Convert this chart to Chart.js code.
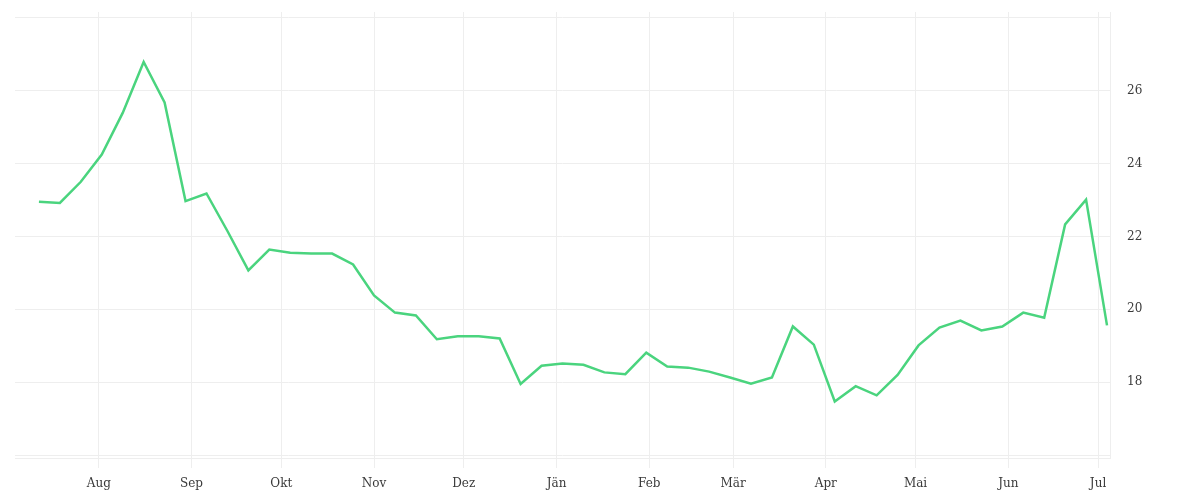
<!DOCTYPE html>
<html>
<head>
<meta charset="utf-8">
<script src="https://cdn.jsdelivr.net/npm/chart.js@4"></script>
<style>
    html, body { margin: 0; padding: 0; background: #fff; }
    #wrap { width: 1200px; height: 500px; }
</style>
</head>
<body>
<div id="wrap"><canvas id="lineChart"></canvas></div>
<script>
// Weekly dates of the series
const weekDates = [
    '2022-07-12', '2022-07-19', '2022-07-26', '2022-08-02', '2022-08-09', '2022-08-16',
    '2022-08-23', '2022-08-30', '2022-09-06', '2022-09-13', '2022-09-20', '2022-09-27',
    '2022-10-04', '2022-10-11', '2022-10-18', '2022-10-25', '2022-11-01', '2022-11-08',
    '2022-11-15', '2022-11-22', '2022-11-29', '2022-12-06', '2022-12-13', '2022-12-20',
    '2022-12-27', '2023-01-03', '2023-01-10', '2023-01-17', '2023-01-24', '2023-01-31',
    '2023-02-07', '2023-02-14', '2023-02-21', '2023-02-28', '2023-03-07', '2023-03-14',
    '2023-03-21', '2023-03-28', '2023-04-04', '2023-04-11', '2023-04-18', '2023-04-25',
    '2023-05-02', '2023-05-09', '2023-05-16', '2023-05-23', '2023-05-30', '2023-06-06',
    '2023-06-13', '2023-06-20', '2023-06-27', '2023-07-04'
];

const weekValues = [
    22.95, 22.92, 23.50, 24.25, 25.39, 26.79, 25.68, 22.97, 23.18, 22.15,
    21.07, 21.64, 21.55, 21.53, 21.53, 21.23, 20.38, 19.91, 19.83, 19.18,
    19.26, 19.26, 19.20, 17.95, 18.45, 18.51, 18.48, 18.27, 18.22, 18.81,
    18.43, 18.40, 18.29, 18.13, 17.96, 18.13, 19.53, 19.03, 17.47, 17.89,
    17.64, 18.20, 19.01, 19.50, 19.69, 19.42, 19.53, 19.91, 19.77, 22.33,
    23.01, 19.56
];

// Month tick marks
const monthStarts = [
    '2022-08-01', '2022-09-01', '2022-10-01', '2022-11-01', '2022-12-01', '2023-01-01',
    '2023-02-01', '2023-03-01', '2023-04-01', '2023-05-01', '2023-06-01', '2023-07-01'
];
const monthLabels = ['Aug', 'Sep', 'Okt', 'Nov', 'Dez', 'Jän', 'Feb', 'Mär', 'Apr', 'Mai', 'Jun', 'Jul'];

const yTicks = [16, 18, 20, 22, 24, 26, 28];
const yLabelled = [18, 20, 22, 24, 26];

// days since 2022-08-01
const base = Date.UTC(2022, 7, 1);
const toDay = s => {
    const [y, m, d] = s.split('-').map(Number);
    return (Date.UTC(y, m - 1, d) - base) / 86400000;
};

const monthDays = monthStarts.map(toDay);
const points = weekDates.map((d, i) => ({ x: toDay(d), y: weekValues[i] }));

const gridColor = '#eeeeee';
const font = { family: 'DejaVu Serif', size: 12 };

const ctx = document.getElementById('lineChart').getContext('2d');
const lineChart = new Chart(ctx, {
    type: 'line',
    data: {
        datasets: [
            {
                label: 'Wert',
                data: points,
                borderColor: '#4ad47e',
                borderWidth: 2.5,
                pointRadius: 0,
                tension: 0,
                fill: false
            }
        ]
    },
    options: {
        responsive: true,
        maintainAspectRatio: false,
        animation: { duration: 0 },
        layout: { padding: { left: 15, top: 12, right: 0, bottom: 0 } },
        plugins: {
            legend: { display: false },
            tooltip: { enabled: false }
        },
        scales: {
            x: {
                type: 'linear',
                min: -28,
                max: 338,
                afterBuildTicks: scale => {
                    scale.ticks = monthDays.map(v => ({ value: v }));
                },
                afterFit: scale => {
                    scale.height = 42;
                    scale.paddingLeft = 0;
                    scale.paddingRight = 0;
                },
                ticks: {
                    color: '#3a3a3a',
                    font: font,
                    padding: 9,
                    maxRotation: 0,
                    autoSkip: false,
                    callback: value => {
                        const i = monthDays.indexOf(value);
                        return i >= 0 ? monthLabels[i] : '';
                    }
                },
                grid: { color: gridColor, tickLength: 10, tickColor: gridColor },
                border: { color: gridColor }
            },
            y: {
                position: 'right',
                min: 15.92,
                max: 28.16,
                afterBuildTicks: scale => {
                    scale.ticks = yTicks.map(v => ({ value: v }));
                },
                afterFit: scale => {
                    scale.width = 90;
                    scale.paddingTop = 0;
                    scale.paddingBottom = 0;
                },
                ticks: {
                    color: '#3a3a3a',
                    font: font,
                    padding: 17,
                    callback: value => yLabelled.includes(value) ? String(value) : ''
                },
                grid: { color: gridColor, drawTicks: false },
                border: { color: gridColor }
            }
        }
    }
});
</script>
</body>
</html>
